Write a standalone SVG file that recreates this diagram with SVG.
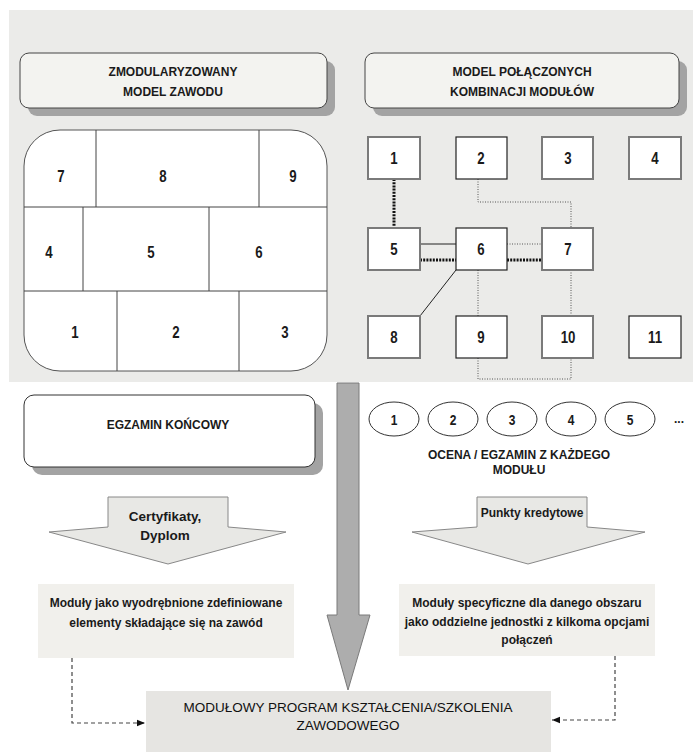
<svg xmlns="http://www.w3.org/2000/svg" width="693" height="752" viewBox="0 0 693 752">
<defs>
<style>
text{font-family:"Liberation Sans",Arial,sans-serif;fill:#1a1a1a;text-anchor:middle}
.hdr{font-size:12px;font-weight:bold}
.num{font-size:17px;font-weight:bold}
.onum{font-size:15px;font-weight:bold}
.body{font-size:12px;font-weight:bold}
.cert{font-size:13.5px;font-weight:bold}
.main{font-size:13.5px;fill:#111}
.shadow{fill:#a3a3a3}
.hbox{fill:#f3f3f0;stroke:#444;stroke-width:1}
.mbox{fill:#fff;stroke:#7a7a7a;stroke-width:2}
.mboxd{fill:#fff;stroke:#222;stroke-width:1.2}
.grid{fill:none;stroke:#444;stroke-width:1}
.thick{fill:none;stroke:#111;stroke-width:3;stroke-dasharray:2 1.2}
.thin{fill:none;stroke:#555;stroke-width:1;stroke-dasharray:1 1.5}
.solid{fill:none;stroke:#222;stroke-width:1}
.dash{fill:none;stroke:#444;stroke-width:1.2;stroke-dasharray:4 3}
.garrow{fill:#e8e8e5;stroke:#888;stroke-width:1}
.tbox{fill:#f1f0ec}
</style>
<marker id="ah" viewBox="0 0 10 10" refX="10" refY="5" markerWidth="8" markerHeight="8" markerUnits="userSpaceOnUse" orient="auto">
<path d="M0,1 L10,5 L0,9 Z" fill="#111"/>
</marker>
</defs>
<rect x="0" y="0" width="693" height="752" fill="#ffffff"/>
<rect x="9" y="10" width="684" height="372" fill="#ebebe9"/>

<g id="hdr-left">
<rect class="shadow" x="28" y="61" width="307" height="55" rx="9"/>
<rect class="hbox" x="20" y="53" width="307" height="55" rx="9"/>
<text class="hdr" x="173" y="76">ZMODULARYZOWANY</text>
<text class="hdr" x="173" y="96">MODEL ZAWODU</text>
</g>

<g id="hdr-right">
<rect class="shadow" x="373" y="61" width="314" height="55" rx="9"/>
<rect class="hbox" x="365" y="53" width="314" height="55" rx="9"/>
<text class="hdr" x="522" y="76">MODEL POŁĄCZONYCH</text>
<text class="hdr" x="522" y="96">KOMBINACJI MODUŁÓW</text>
</g>

<g id="grid">
<rect x="24" y="130" width="303" height="241" rx="36" fill="#fff" stroke="#555" stroke-width="1"/>
<path class="grid" d="M24,207 H327 M24,291 H327 M96,130 V207 M259,130 V207 M83,207 V291 M209,207 V291 M117,291 V371 M239,291 V371"/>
<g id="cell7"><text class="num" transform="translate(61,182) scale(0.78,1)">7</text></g>
<g id="cell8"><text class="num" transform="translate(163,182) scale(0.78,1)">8</text></g>
<g id="cell9"><text class="num" transform="translate(293,182) scale(0.78,1)">9</text></g>
<g id="cell4"><text class="num" transform="translate(49,258) scale(0.78,1)">4</text></g>
<g id="cell5"><text class="num" transform="translate(151,258) scale(0.78,1)">5</text></g>
<g id="cell6"><text class="num" transform="translate(259,258) scale(0.78,1)">6</text></g>
<g id="cell1"><text class="num" transform="translate(75,338) scale(0.78,1)">1</text></g>
<g id="cell2"><text class="num" transform="translate(176,338) scale(0.78,1)">2</text></g>
<g id="cell3"><text class="num" transform="translate(285,338) scale(0.78,1)">3</text></g>
</g>

<g id="connectors">
<path class="thick" d="M394,179 V228"/>
<path class="thin" d="M478,179 V202 H571 V228"/>
<path class="solid" d="M420,244 H456"/>
<path class="thick" d="M420,260 H456"/>
<path class="thin" d="M507,244 H542"/>
<path class="thick" d="M507,260 H542"/>
<path class="solid" d="M456,270 L420,316"/>
<path class="thin" d="M478,270 V316"/>
<path class="thin" d="M571,270 V316"/>
<path class="thin" d="M478,358 V379 H571 V358"/>
<path class="dash" d="M72,658 V723 H145" marker-end="url(#ah)"/>
<path class="dash" d="M615,656 V720 H552" marker-end="url(#ah)"/>
</g>

<g id="m1"><rect class="mbox" x="368" y="137" width="52" height="42"/><text class="num" transform="translate(394,164) scale(0.78,1)">1</text></g>
<g id="m2"><rect class="mboxd" x="456" y="137" width="51" height="42"/><text class="num" transform="translate(481,164) scale(0.78,1)">2</text></g>
<g id="m3"><rect class="mbox" x="542" y="137" width="51" height="42"/><text class="num" transform="translate(568,164) scale(0.78,1)">3</text></g>
<g id="m4"><rect class="mbox" x="629" y="137" width="52" height="42"/><text class="num" transform="translate(655,164) scale(0.78,1)">4</text></g>
<g id="m5"><rect class="mbox" x="368" y="228" width="52" height="42"/><text class="num" transform="translate(394,255) scale(0.78,1)">5</text></g>
<g id="m6"><rect class="mboxd" x="456" y="228" width="51" height="42"/><text class="num" transform="translate(481,255) scale(0.78,1)">6</text></g>
<g id="m7"><rect class="mbox" x="542" y="228" width="51" height="42"/><text class="num" transform="translate(568,255) scale(0.78,1)">7</text></g>
<g id="m8"><rect class="mbox" x="368" y="316" width="52" height="42"/><text class="num" transform="translate(394,343) scale(0.78,1)">8</text></g>
<g id="m9"><rect class="mboxd" x="456" y="316" width="51" height="42"/><text class="num" transform="translate(481,343) scale(0.78,1)">9</text></g>
<g id="m10"><rect class="mbox" x="542" y="316" width="51" height="42"/><text class="num" transform="translate(568,343) scale(0.78,1)">10</text></g>
<g id="m11"><rect class="mboxd" x="629" y="316" width="52" height="42"/><text class="num" transform="translate(655,343) scale(0.78,1)">11</text></g>

<g id="big-arrow">
<polygon points="337,383 359,383 359,615 370,615 348,690 327,615 337,615" fill="#adadad" stroke="#7a7a7a" stroke-width="1"/>
</g>

<g id="egzamin">
<rect class="shadow" x="32" y="403" width="291" height="72" rx="10"/>
<rect x="24" y="395" width="291" height="72" rx="10" fill="#fff" stroke="#333" stroke-width="1"/>
<text class="hdr" x="168" y="429">EGZAMIN KOŃCOWY</text>
</g>

<g id="ocena">
<ellipse cx="394" cy="419" rx="25" ry="17" fill="#fff" stroke="#333" stroke-width="1"/>
<text class="onum" transform="translate(394,425) scale(0.8,1)">1</text>
<ellipse cx="453" cy="419" rx="25" ry="17" fill="#fff" stroke="#333" stroke-width="1"/>
<text class="onum" transform="translate(453,425) scale(0.8,1)">2</text>
<ellipse cx="512" cy="419" rx="25" ry="17" fill="#fff" stroke="#333" stroke-width="1"/>
<text class="onum" transform="translate(512,425) scale(0.8,1)">3</text>
<ellipse cx="571" cy="419" rx="25" ry="17" fill="#fff" stroke="#333" stroke-width="1"/>
<text class="onum" transform="translate(571,425) scale(0.8,1)">4</text>
<ellipse cx="630" cy="419" rx="25" ry="17" fill="#fff" stroke="#333" stroke-width="1"/>
<text class="onum" transform="translate(630,425) scale(0.8,1)">5</text>
<text class="hdr" x="679" y="423">...</text>
<text class="hdr" x="519" y="459">OCENA / EGZAMIN Z KAŻDEGO</text>
<text class="hdr" x="519" y="474">MODUŁU</text>
</g>

<g id="cert-arrow">
<polygon class="garrow" points="108,497 228,497 228,527 286,532 168,564 49,532 108,527"/>
<text class="cert" x="165" y="521">Certyfikaty,</text>
<text class="cert" x="165" y="540">Dyplom</text>
</g>

<g id="punkty-arrow">
<polygon class="garrow" points="477,497 587,497 587,527 645,532 528,564 412,532 477,527"/>
<text class="body" x="532" y="517">Punkty kredytowe</text>
</g>

<g id="text-left">
<rect class="tbox" x="38" y="584" width="256" height="74"/>
<text class="body" x="166" y="607">Moduły jako wyodrębnione zdefiniowane</text>
<text class="body" x="166" y="627">elementy składające się na zawód</text>
</g>

<g id="text-right">
<rect class="tbox" x="399" y="584" width="256" height="72"/>
<text class="body" x="527" y="607">Moduły specyficzne dla danego obszaru</text>
<text class="body" x="527" y="626">jako oddzielne jednostki z kilkoma opcjami</text>
<text class="body" x="527" y="644">połączeń</text>
</g>

<g id="program">
<rect x="146" y="691" width="405" height="61" fill="#e6e5e2"/>
<text class="main" x="348" y="712">MODUŁOWY PROGRAM KSZTAŁCENIA/SZKOLENIA</text>
<text class="main" x="348" y="730">ZAWODOWEGO</text>
</g>
</svg>
